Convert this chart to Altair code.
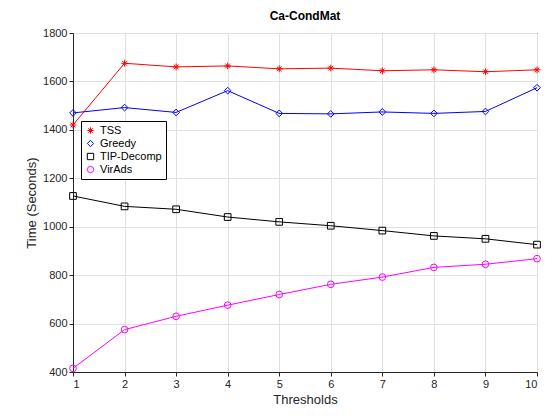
import altair as alt
import pandas as pd

thresholds = [1, 2, 3, 4, 5, 6, 7, 8, 9, 10]
tss = [1420, 1675, 1660, 1664, 1652, 1655, 1644, 1648, 1640, 1648]
greedy = [1470, 1492, 1472, 1562, 1468, 1466, 1474, 1468, 1476, 1574]
tip = [1127, 1084, 1072, 1040, 1020, 1004, 984, 962, 950, 926]
virads = [415, 575, 630, 676, 720, 762, 792, 832, 845, 868]

series = ["TSS", "Greedy", "TIP-Decomp", "VirAds"]
colors = ["#ff0000", "#0000ff", "#000000", "#ff00ff"]
asterisk = "M-1,0L1,0M0,-1L0,1M-0.7,-0.7L0.7,0.7M-0.7,0.7L0.7,-0.7"
shapes = [asterisk, "diamond", "square", "circle"]

rows = []
for name, vals in zip(series, [tss, greedy, tip, virads]):
    for t, v in zip(thresholds, vals):
        rows.append({"Thresholds": t, "Time": v, "Series": name})
df = pd.DataFrame(rows)

x = alt.X("Thresholds:Q", scale=alt.Scale(domain=[1, 10], nice=False),
          axis=alt.Axis(values=thresholds, title="Thresholds", format="d"))
y = alt.Y("Time:Q", scale=alt.Scale(domain=[400, 1800], nice=False),
          axis=alt.Axis(values=list(range(400, 1801, 200)), title="Time (Seconds)", format="d"))
color = alt.Color("Series:N", scale=alt.Scale(domain=series, range=colors),
                  legend=alt.Legend(title=None, orient="none", legendX=8, legendY=88,
                                    fillColor="white", strokeColor="black", padding=4,
                                    symbolStrokeWidth=1, symbolSize=40, labelFontSize=11,
                                    rowPadding=1))
shape = alt.Shape("Series:N", scale=alt.Scale(domain=series, range=shapes))

base = alt.Chart(df)
lines = base.mark_line(strokeWidth=1).encode(x=x, y=y, color=color, detail="Series:N")
pts = base.mark_point(filled=False, size=45, strokeWidth=1, opacity=1).encode(
    x=x, y=y, color=color, shape=shape)

chart = (lines + pts).properties(
    width=464, height=339,
    title=alt.TitleParams("Ca-CondMat", fontSize=12, fontWeight="bold", font="Liberation Sans"),
    autosize=alt.AutoSizeParams(type="none"),
    padding={"left": 65, "top": 25, "right": 15, "bottom": 40},
).configure_view(stroke="black", strokeWidth=1).configure_axis(
    labelFont="Liberation Sans", titleFont="Liberation Sans", labelFontSize=11,
    titleFontSize=13, titleFontWeight="normal", labelColor="#262626", titleColor="#262626",
    gridColor="#e0e0e0", domainColor="#262626", tickColor="#262626", tickSize=4,
).configure_legend(labelFont="Liberation Sans")

chart.save("out.html", embed_options={"renderer": "svg", "actions": False})
